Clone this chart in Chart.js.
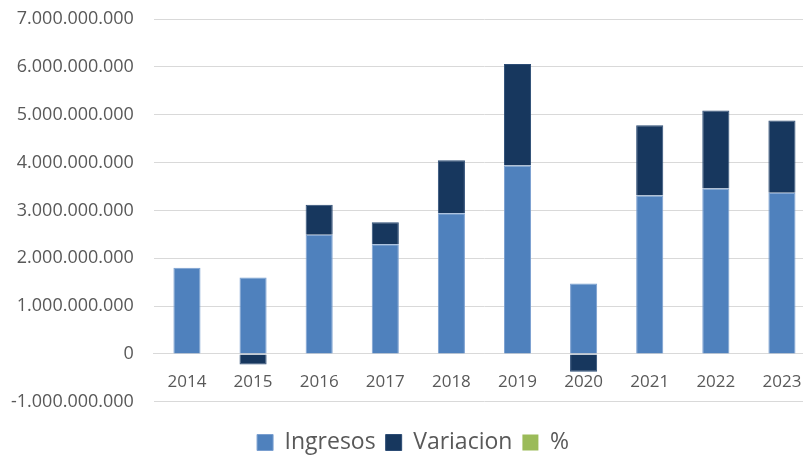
<!DOCTYPE html>
<html>
<head>
<meta charset="utf-8">
<script src="https://cdn.jsdelivr.net/npm/chart.js@4/dist/chart.umd.min.js"></script>
<style>
  html, body { margin:0; padding:0; background:#fff; overflow:hidden; }
  #wrap { width:815px; height:455px; position:relative; }
</style>
</head>
<body>
<div id="wrap"><canvas id="chart"></canvas></div>
<script>
const years = ['2014','2015','2016','2017','2018','2019','2020','2021','2022','2023'];
const ingresos = [1.80e9,1.60e9,2.49e9,2.29e9,2.94e9,3.94e9,1.47e9,3.31e9,3.46e9,3.37e9];
const variacion = [0,-0.22e9,0.63e9,0.46e9,1.11e9,2.12e9,-0.37e9,1.47e9,1.63e9,1.51e9];
const pct = [null,null,null,null,null,null,null,null,null,null];

Chart.defaults.font.family = "Open Sans, sans-serif";
Chart.defaults.color = '#595959';

const fmt = v => String(v).replace(/\B(?=(\d{3})+(?!\d))/g, '.');

new Chart(document.getElementById('chart').getContext('2d'), {
  type:'bar',
  data:{
    labels:years,
    datasets:[
      {label:'Ingresos', data:ingresos, backgroundColor:'#4F81BD', borderColor:'#7A9FD0', borderWidth:1},
      {label:'Variacion', data:variacion, backgroundColor:'#17375E', borderColor:'#2C4C75', borderWidth:1},
      {label:'%', data:pct, backgroundColor:'#9BBB59'}
    ]
  },
  options:{
    responsive:true, maintainAspectRatio:false, animation:false,
    layout:{padding:{top:19, left:11, right:0, bottom:-9}},
    datasets:{bar:{categoryPercentage:1, barPercentage:0.41}},
    plugins:{
      legend:{
        position:'bottom',
        title:{display:true, text:' ', font:{size:6}, padding:{top:4, bottom:8}},
        labels:{boxWidth:16, boxHeight:16, padding:10, font:{size:23}}
      },
      tooltip:{enabled:false}
    },
    scales:{
      x:{
        stacked:true, position:{y:0},
        grid:{display:false}, border:{color:'#d9d9d9'},
        ticks:{font:{size:17}, padding:10}
      },
      y:{
        stacked:true, min:-1e9, max:7e9,
        grid:{color:'#d9d9d9', drawTicks:true, tickLength:20, tickColor:'rgba(0,0,0,0)'},
        border:{display:false},
        ticks:{stepSize:1e9, padding:0, font:{size:18}, callback:v=>fmt(v)}
      }
    }
  }
});
</script>
</body>
</html>
